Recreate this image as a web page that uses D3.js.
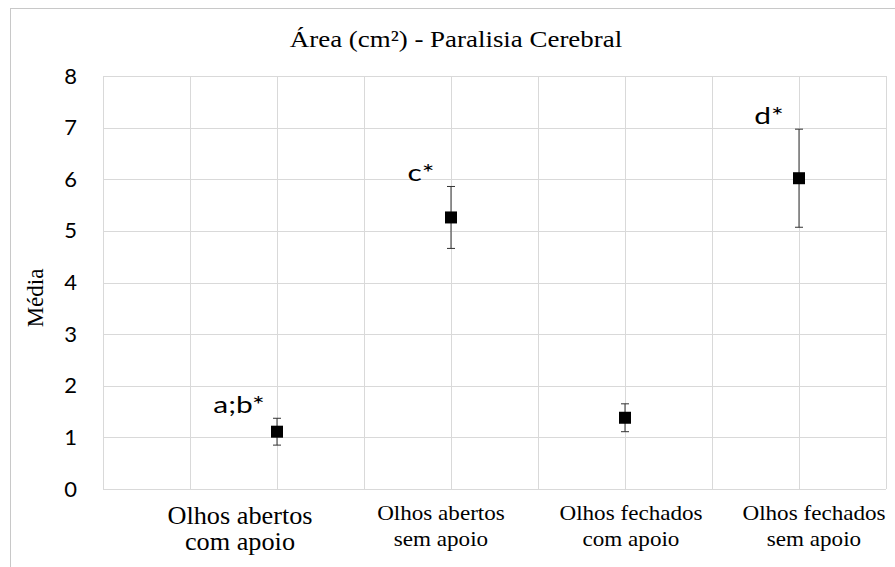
<!DOCTYPE html>
<html>
<head>
<meta charset="utf-8">
<script src="https://cdn.jsdelivr.net/npm/d3@7"></script>
<style>
	body { margin: 0; background: #fff; }
</style>
</head>
<body>
<div id="chart"></div>
<script>

// data
var categories = [
	["Olhos abertos", "com apoio"],
	["Olhos abertos", "sem apoio"],
	["Olhos fechados", "com apoio"],
	["Olhos fechados", "sem apoio"]
];
var means = [1.11, 5.26, 1.38, 6.02];
var errors = [0.26, 0.6, 0.27, 0.95];
var letters = ["a;b*", "c*", "", "d*"];
var yTicks = [0, 1, 2, 3, 4, 5, 6, 7, 8];

var SERIF = "'Liberation Serif', 'Times New Roman', Times, serif";
var SANS = "Lato, 'Open Sans', sans-serif";

var width = 895, height = 567;
var margin = { top: 76, right: 9, bottom: 78, left: 103 };

// the source picture is a bit wider than its fonts: stretch text horizontally
function stretch(sel, k) {
	sel.each(function() {
		var w = this.getComputedTextLength();
		if (w > 0) d3.select(this).attr("textLength", w * k).attr("lengthAdjust", "spacingAndGlyphs");
	});
}

var svg = d3.select("#chart").append("svg")
	.attr("width", width)
	.attr("height", height);

// outer chart border
svg.append("rect")
	.attr("x", 10.5).attr("y", 8.5)
	.attr("width", 900).attr("height", 600)
	.attr("fill", "none")
	.attr("stroke", "#c8c8c8");

// x: points sit at 1..4, grid every 0.5
var xScale = d3.scaleLinear()
	.domain([0, 4.5])
	.range([margin.left, width - margin.right]);

var yScale = d3.scaleLinear()
	.domain([0, 8])
	.range([height - margin.bottom, margin.top]);

var g = svg.append("g");

// gridlines
g.selectAll("line.hgrid")
	.data(yTicks).enter()
	.append("line")
		.attr("class", "hgrid")
		.attr("x1", xScale(0)).attr("x2", xScale(4.5))
		.attr("y1", function(d){ return Math.round(yScale(d)) + 0.5 })
		.attr("y2", function(d){ return Math.round(yScale(d)) + 0.5 })
		.attr("stroke", "#d9d9d9");

g.selectAll("line.vgrid")
	.data(d3.range(0, 4.51, 0.5)).enter()
	.append("line")
		.attr("class", "vgrid")
		.attr("x1", function(d){ return Math.round(xScale(d)) + 0.5 })
		.attr("x2", function(d){ return Math.round(xScale(d)) + 0.5 })
		.attr("y1", yScale(8)).attr("y2", yScale(0))
		.attr("stroke", "#d9d9d9");

// y axis tick labels
var yAxis = d3.axisLeft(yScale).tickValues(yTicks).tickSize(0).tickPadding(26);
var yg = svg.append("g")
	.attr("transform", "translate(" + margin.left + ",0)")
	.call(yAxis);
yg.select(".domain").remove();
yg.attr("font-family", SANS).attr("font-size", 22);
yg.selectAll("text").attr("fill", "#000");

// y axis label
svg.append("text")
	.attr("font-family", SERIF)
	.attr("font-size", 23)
	.attr("transform", "translate(43," + yScale(3.7) + ") rotate(-90)")
	.attr("text-anchor", "middle")
	.text("Média");

// title
svg.append("text")
	.attr("font-family", SERIF)
	.attr("font-size", 23)
	.attr("x", 456).attr("y", 47)
	.attr("text-anchor", "middle")
	.text("Área (cm²) - Paralisia Cerebral")
	.call(stretch, 1.17);

// category labels (text boxes sit a bit off the points)
var labelShift = [-37, -10, 6, 15];
var labelSize = [25, 22, 22, 22];
var labelBase = [524, 520, 520, 520];
categories.forEach(function(lines, i) {
	var t = svg.append("text")
		.attr("font-family", SERIF)
		.attr("text-anchor", "middle")
		.attr("font-size", labelSize[i]);
	lines.forEach(function(s, j) {
		t.append("tspan")
			.attr("font-family", SERIF)
			.attr("x", xScale(i + 1) + labelShift[i])
			.attr("y", labelBase[i] + j * 26)
			.text(s)
			.call(stretch, 1.05);
	});
});

// error bars
var bars = g.selectAll("g.err")
	.data(means).enter()
	.append("g").attr("class", "err");

bars.append("line")
	.attr("x1", function(d,i){ return xScale(i + 1) })
	.attr("x2", function(d,i){ return xScale(i + 1) })
	.attr("y1", function(d,i){ return yScale(d - errors[i]) })
	.attr("y2", function(d,i){ return yScale(d + errors[i]) })
	.attr("stroke", "#333").attr("stroke-width", 1);

[-1, 1].forEach(function(sign) {
	bars.append("line")
		.attr("x1", function(d,i){ return xScale(i + 1) - 4 })
		.attr("x2", function(d,i){ return xScale(i + 1) + 4 })
		.attr("y1", function(d,i){ return yScale(d + sign * errors[i]) })
		.attr("y2", function(d,i){ return yScale(d + sign * errors[i]) })
		.attr("stroke", "#333").attr("stroke-width", 1);
});

// markers
g.selectAll("rect.box")
	.data(means).enter()
	.append("rect")
		.attr("class", "box")
		.attr("x", function(d,i){ return xScale(i + 1) - 6 })
		.attr("y", function(d){ return yScale(d) - 6 })
		.attr("width", 12).attr("height", 12)
		.attr("fill", "#000");

// significance letters
var letterShift = [-38, -30, 0, -30];
g.selectAll("text.letter")
	.data(means).enter()
	.append("text")
		.attr("class", "letter")
		.attr("font-family", SANS)
		.attr("font-size", 23)
		.attr("x", function(d,i){ return xScale(i + 1) + letterShift[i] })
		.attr("y", function(d,i){ return yScale(d + errors[i]) - 5 })
		.attr("text-anchor", "middle")
		.text(function(d,i){ return letters[i] })
		.call(stretch, 1.3);

</script>
</body>
</html>
